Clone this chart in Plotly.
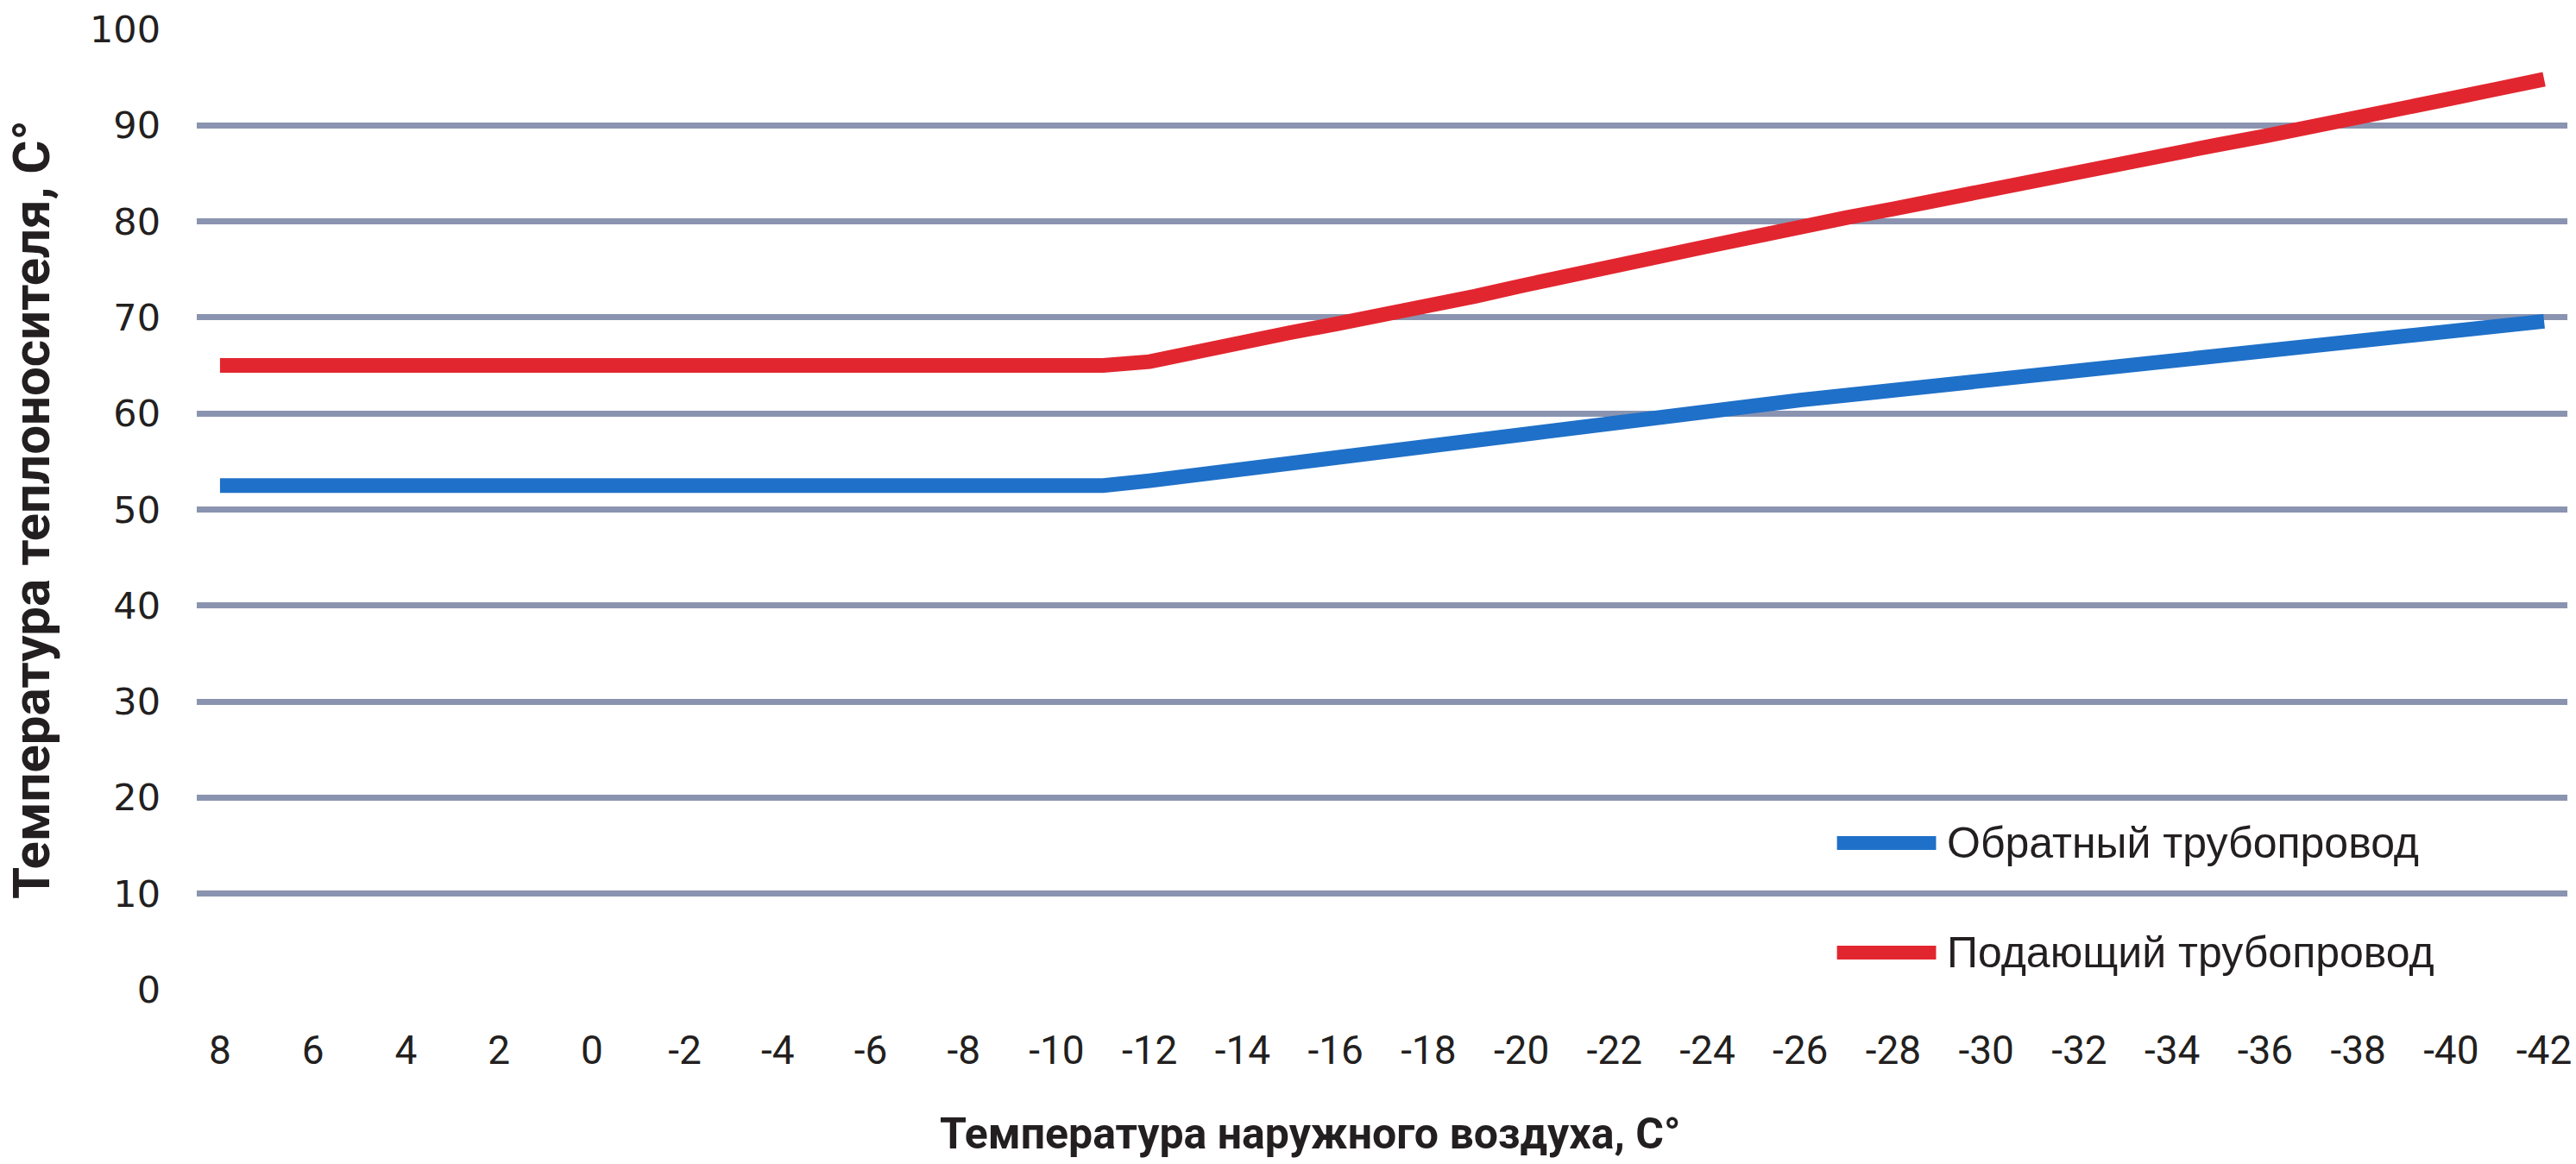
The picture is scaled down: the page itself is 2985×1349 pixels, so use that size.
import plotly.graph_objects as go

# Outdoor air temperature, °C (category axis, warm to cold)
outdoor_temp = [8, 7, 6, 5, 4, 3, 2, 1, 0, -1, -2, -3, -4, -5, -6, -7, -8, -9, -10, -11,
                -12, -13, -14, -15, -16, -17, -18, -19, -20, -21, -22, -23, -24, -25, -26, -27,
                -28, -29, -30, -31, -32, -33, -34, -35, -36, -37, -38, -39, -40, -41, -42]

# Return pipeline water temperature, °C
return_temp = [52.5, 52.5, 52.5, 52.5, 52.5, 52.5, 52.5, 52.5, 52.5, 52.5,
               52.5, 52.5, 52.5, 52.5, 52.5, 52.5, 52.5, 52.5, 52.5, 52.5,
               53.0, 53.6, 54.2, 54.9, 55.6, 56.3, 56.9, 57.5, 58.1, 58.6,
               59.2, 59.8, 60.3, 60.8, 61.4, 61.9, 62.4, 62.9, 63.4, 63.9,
               64.4, 64.8, 65.3, 65.8, 66.3, 66.8, 67.3, 67.8, 68.4, 69.0, 69.6]

# Supply pipeline water temperature, °C
supply_temp = [65.0, 65.0, 65.0, 65.0, 65.0, 65.0, 65.0, 65.0, 65.0, 65.0,
               65.0, 65.0, 65.0, 65.0, 65.0, 65.0, 65.0, 65.0, 65.0, 65.0,
               65.4, 66.5, 67.5, 68.4, 69.3, 70.2, 71.2, 72.2, 73.3, 74.4,
               75.4, 76.4, 77.4, 78.4, 79.5, 80.4, 81.3, 82.3, 83.3, 84.3,
               85.3, 86.2, 87.1, 88.0, 88.9, 89.8, 90.8, 91.8, 92.8, 93.8, 94.8]

x_ticks = [8, 6, 4, 2, 0, -2, -4, -6, -8, -10, -12, -14, -16, -18, -20, -22, -24,
           -26, -28, -30, -32, -34, -36, -38, -40, -42]
y_ticks = [0, 10, 20, 30, 40, 50, 60, 70, 80, 90, 100]

series_names = ["Обратный трубопровод", "Подающий трубопровод"]
series_colors = ["#1f70c8", "#e2262f"]

x_title = "Температура наружного воздуха, C°"
y_title = "Температура теплоносителя, C°"

GRID = "#8a94b0"
TEXT = "#231f20"
TITLE_FONT = "Roboto, Liberation Sans, sans-serif"

fig = go.Figure()
for name, values, color in zip(series_names, [return_temp, supply_temp], series_colors):
    fig.add_trace(go.Scatter(
        x=outdoor_temp, y=values, name=name, mode="lines",
        line=dict(color=color, width=17, shape="linear"),
        showlegend=False,
    ))

# Legend drawn as line samples with labels in the lower right of the plot area
legend_rows_y = [0.1527, 0.0386]
for name, color, ly in zip(series_names, series_colors, legend_rows_y):
    fig.add_shape(type="line", xref="paper", yref="paper",
                  x0=0.6919, x1=0.7337, y0=ly, y1=ly,
                  line=dict(color=color, width=16))
    fig.add_annotation(xref="paper", yref="paper", x=0.7377, y=ly,
                       xanchor="left", yanchor="middle", showarrow=False,
                       text=name, font=dict(family="Liberation Sans, Arial, sans-serif",
                                            size=50, color=TEXT))

# Horizontal axis title, set slightly left of the plot centre
fig.add_annotation(xref="paper", yref="paper", x=0.4695, y=-0.150,
                   xanchor="center", yanchor="middle", showarrow=False,
                   text=x_title,
                   font=dict(family=TITLE_FONT, size=50, color=TEXT, weight="bold"))

fig.update_layout(
    width=2985, height=1349,
    margin=dict(l=228, r=5, t=34, b=202),
    paper_bgcolor="white", plot_bgcolor="white",
    showlegend=False,
    xaxis=dict(
        range=[8.5, -42.5],
        tickmode="array", tickvals=x_ticks, ticktext=[str(v) for v in x_ticks],
        showgrid=False, zeroline=False, showline=False, ticks="",
        tickfont=dict(family="Roboto, Liberation Sans, sans-serif", size=46, color=TEXT),
        ticklabelstandoff=39,
        ticklabeloverflow="allow",
    ),
    yaxis=dict(
        range=[0, 100],
        tickmode="array", tickvals=y_ticks,
        showgrid=True, gridcolor=GRID, gridwidth=7,
        zeroline=False, showline=False, ticks="",
        tickfont=dict(family="DejaVu Sans, Verdana, sans-serif", size=43, color=TEXT),
        ticklabelstandoff=41,
        ticklabeloverflow="allow",
        title=dict(text=y_title,
                   font=dict(family=TITLE_FONT, size=60, color=TEXT, weight="bold"),
                   standoff=26),
    ),
)

fig.write_html("out.html")
